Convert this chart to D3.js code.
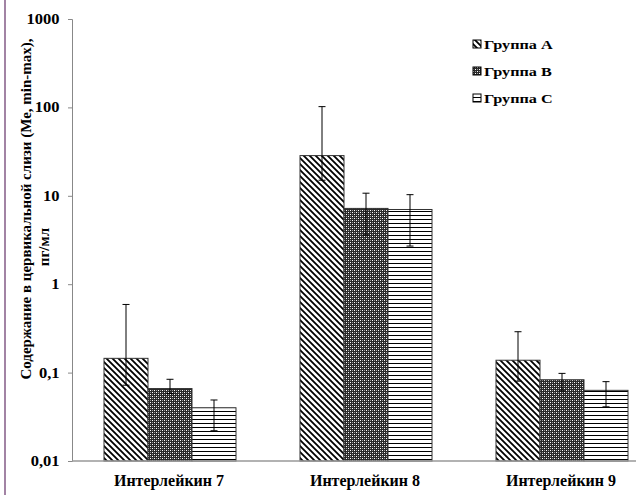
<!DOCTYPE html>
<html>
<head>
<meta charset="utf-8">
<script src="https://cdn.jsdelivr.net/npm/d3@7"></script>
<style>
  body { margin: 0; background: #fff; }
</style>
</head>
<body>
<script>
// data (pg/ml, log axis)
var categories = ["Интерлейкин 7", "Интерлейкин 8", "Интерлейкин 9"];
var groups = ["Группа A", "Группа B", "Группа C"];
var medians = [
    [0.145, 0.066, 0.040],
    [28.5, 7.2, 7.0],
    [0.138, 0.083, 0.063]
];
var mins = [
    [0.072, 0.058, 0.022],
    [15, 3.6, 2.7],
    [0.080, 0.062, 0.041]
];
var maxs = [
    [0.59, 0.084, 0.049],
    [102, 10.7, 10.3],
    [0.29, 0.098, 0.079]
];
var yTicks = [0.01, 0.1, 1, 10, 100, 1000];
var yTickLabels = ["0,01", "0,1", "1", "10", "100", "1000"];

var FONT = "'Liberation Serif', 'Times New Roman', serif";
var width = 636, height = 497;
var margin = { top: 19, left: 72, bottom: 36 };
var plotBottom = height - margin.bottom;

var svg = d3.select("body").append("svg")
    .attr("width", width)
    .attr("height", height);

// fill patterns
var defs = svg.append("defs");

var pA = defs.append("pattern")
    .attr("id", "patA")
    .attr("patternUnits", "userSpaceOnUse")
    .attr("width", 6).attr("height", 6);
pA.append("rect").attr("width", 6).attr("height", 6).attr("fill", "#fff");
pA.append("path")
    .attr("d", "M0,0L6,6M-1,5L1,7M5,-1L7,1")
    .attr("stroke", "#000")
    .attr("stroke-width", 1.8);

var pB = defs.append("pattern")
    .attr("id", "patB")
    .attr("patternUnits", "userSpaceOnUse")
    .attr("width", 4).attr("height", 4);
pB.append("rect").attr("width", 4).attr("height", 4).attr("fill", "#2a2a2a");
pB.append("rect").attr("x", 0).attr("y", 0).attr("width", 1).attr("height", 1).attr("fill", "#fff");
pB.append("rect").attr("x", 2).attr("y", 2).attr("width", 1).attr("height", 1).attr("fill", "#fff");
pB.append("rect").attr("x", 2).attr("y", 0).attr("width", 1).attr("height", 1).attr("fill", "#999");
pB.append("rect").attr("x", 0).attr("y", 2).attr("width", 1).attr("height", 1).attr("fill", "#999");

var pC = defs.append("pattern")
    .attr("id", "patC")
    .attr("patternUnits", "userSpaceOnUse")
    .attr("width", 4).attr("height", 4);
pC.append("rect").attr("width", 4).attr("height", 4).attr("fill", "#fff");
pC.append("rect").attr("y", 3).attr("width", 4).attr("height", 1).attr("fill", "#000");

var fills = ["url(#patA)", "url(#patB)", "url(#patC)"];

// left frame line
svg.append("line")
    .attr("x1", 5).attr("x2", 5)
    .attr("y1", 0).attr("y2", 495)
    .attr("stroke", "#a283a4")
    .attr("stroke-width", 2);

// scales
var y = d3.scaleLog().domain([0.01, 1000]).range([plotBottom, margin.top]);

var x0 = d3.scaleBand()
    .domain(categories)
    .range([margin.left, margin.left + 3 * 196]);

var x1 = d3.scaleBand()
    .domain(groups)
    .range([32, 164]);

// y axis
var yAxis = svg.append("g")
    .attr("transform", "translate(" + margin.left + ",0)")
    .call(d3.axisLeft(y)
        .tickValues(yTicks)
        .tickSize(4)
        .tickPadding(6.5)
        .tickFormat(function (d, i) { return yTickLabels[i]; }));
yAxis.select(".domain").attr("stroke", "#888");
yAxis.selectAll(".tick line").attr("stroke", "#888");
// text in the original is a little wider than it is tall
yAxis.selectAll(".tick text")
    .attr("transform", "scale(1.18,1)")
    .style("font-family", FONT)
    .style("font-weight", "bold")
    .style("font-size", "14px")
    .attr("fill", "#000");

// bars
var cat = svg.selectAll(".cat")
    .data(categories)
    .enter().append("g")
    .attr("class", "cat")
    .attr("transform", function (d) { return "translate(" + x0(d) + ",0)"; });

cat.selectAll("rect")
    .data(function (d, i) {
        return groups.map(function (g, j) {
            return { group: g, j: j, v: medians[i][j] };
        });
    })
    .enter().append("rect")
    .attr("x", function (d) { return x1(d.group); })
    .attr("y", function (d) { return y(d.v); })
    .attr("width", x1.bandwidth())
    .attr("height", function (d) { return plotBottom - y(d.v); })
    .attr("fill", function (d) { return fills[d.j]; })
    .attr("stroke", "#333")
    .attr("stroke-width", 1);

// error bars (min-max)
var err = cat.selectAll(".err")
    .data(function (d, i) {
        return groups.map(function (g, j) {
            return { group: g, lo: mins[i][j], hi: maxs[i][j] };
        });
    })
    .enter().append("g")
    .attr("class", "err")
    .attr("stroke", "#000")
    .attr("stroke-width", 1);

function cx(d) { return x1(d.group) + x1.bandwidth() / 2; }

err.append("line")
    .attr("x1", cx).attr("x2", cx)
    .attr("y1", function (d) { return y(d.hi); })
    .attr("y2", function (d) { return y(d.lo); });

err.append("line")
    .attr("x1", function (d) { return cx(d) - 3.5; })
    .attr("x2", function (d) { return cx(d) + 3.5; })
    .attr("y1", function (d) { return y(d.hi); })
    .attr("y2", function (d) { return y(d.hi); });

err.append("line")
    .attr("x1", function (d) { return cx(d) - 3.5; })
    .attr("x2", function (d) { return cx(d) + 3.5; })
    .attr("y1", function (d) { return y(d.lo); })
    .attr("y2", function (d) { return y(d.lo); });

// x axis line
svg.append("line")
    .attr("x1", margin.left).attr("x2", width)
    .attr("y1", plotBottom).attr("y2", plotBottom)
    .attr("stroke", "#999")
    .attr("stroke-width", 1.5);

// category labels
svg.selectAll(".catlabel")
    .data(categories)
    .enter().append("text")
    .attr("class", "catlabel")
    .attr("x", function (d) { return x0(d) + x0.bandwidth() / 2 - 1; })
    .attr("y", 486)
    .attr("text-anchor", "middle")
    .style("font-family", FONT)
    .style("font-weight", "bold")
    .style("font-size", "16px")
    .text(function (d) { return d; });

// y axis title
svg.append("text")
    .attr("transform", "translate(31,209) rotate(-90)")
    .attr("text-anchor", "middle")
    .style("font-family", FONT)
    .style("font-weight", "bold")
    .style("font-size", "15px")
    .text("Содержание в цервикальной слизи (Ме, min-max),");

svg.append("text")
    .attr("transform", "translate(49,247) rotate(-90)")
    .attr("text-anchor", "middle")
    .style("font-family", FONT)
    .style("font-weight", "bold")
    .style("font-size", "15px")
    .text("пг/мл");

// legend
var legend = svg.selectAll(".legend")
    .data(groups)
    .enter().append("g")
    .attr("class", "legend")
    .attr("transform", function (d, i) { return "translate(473," + (44 + i * 27) + ")"; });

legend.append("rect")
    .attr("x", 0).attr("y", -4)
    .attr("width", 8).attr("height", 8)
    .attr("fill", function (d, i) { return fills[i]; })
    .attr("stroke", "#000")
    .attr("stroke-width", 1);

legend.append("text")
    .attr("x", 9.2)
    .attr("y", 5)
    .attr("transform", "scale(1.2,1)")
    .style("font-family", FONT)
    .style("font-weight", "bold")
    .style("font-size", "13.5px")
    .text(function (d) { return d; });
</script>
</body>
</html>
